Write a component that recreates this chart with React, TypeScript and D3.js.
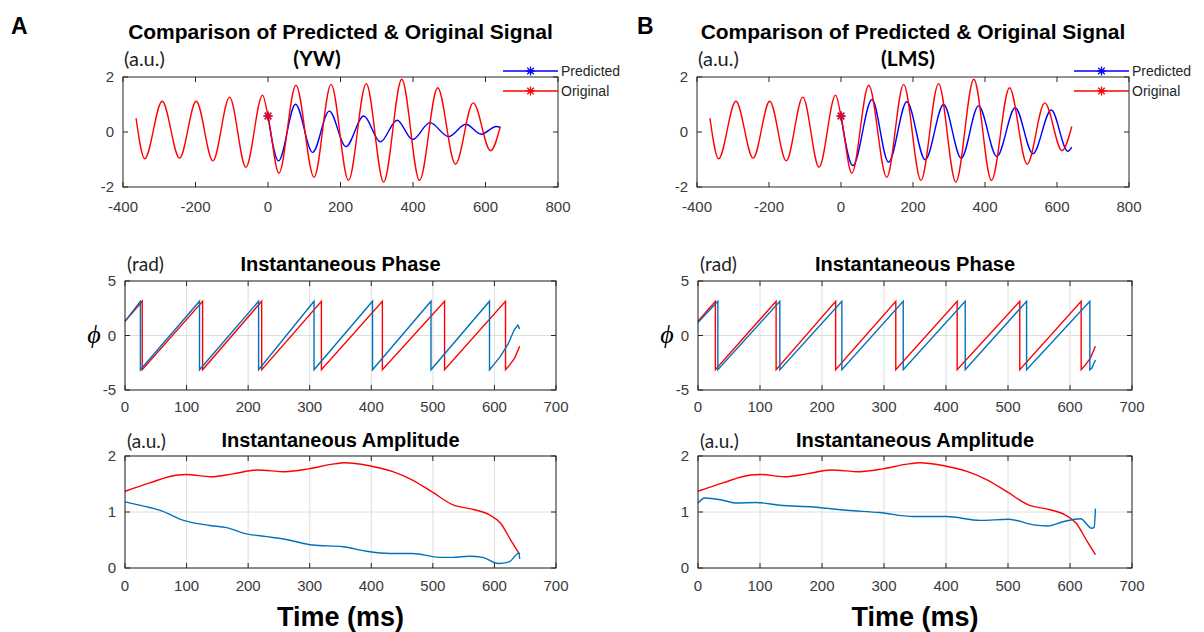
import React from 'react';
import * as d3 from 'd3';

const W = 1204;
const H = 632;

type Pt = [number, number];

// Original signal, shared by both methods: [time (ms), amplitude (a.u.)]
const originalSignal: Pt[] = [
  [-364, 0.5], [-340, -0.97], [-292, 1.12], [-244, -0.95], [-198, 1.12], [-152, -1.05],
  [-106, 1.27], [-61, -1.28], [-15, 1.34], [0, 0.58], [30, -1.5], [77, 1.7], [127, -1.65],
  [174, 1.73], [222, -1.76], [271, 1.76], [319, -1.82], [369, 1.92], [418, -1.76],
  [468, 1.61], [517, -1.17], [566, 1.06], [614, -0.68], [641, 0.2],
];

// Predicted signal, Yule-Walker (YW)
const predictedYW: Pt[] = [
  [0, 0.58], [29, -1.05], [76, 1.01], [123, -0.74], [169, 0.76], [215, -0.53], [264, 0.58],
  [310, -0.36], [356, 0.43], [399, -0.27], [447, 0.34], [498, -0.17], [546, 0.28],
  [588, -0.08], [630, 0.2], [641, 0.17],
];

// Predicted signal, least mean squares (LMS)
const predictedLMS: Pt[] = [
  [0, 0.58], [33, -1.22], [86, 1.18], [132, -1.1], [183, 1.1], [234, -1.01], [285, 1.0],
  [334, -0.95], [382, 0.95], [433, -0.89], [484, 0.88], [533, -0.79], [584, 0.8],
  [630, -0.7], [641, -0.55],
];

// Instantaneous phase: start value, wrap times (ms) and the final partial cycle
const phaseStart = { original: 1.3, yw: 1.3, lms: 1.2 };
const phaseWrapsOriginal = [28, 126, 222, 319, 418, 519, 618];
const phaseWrapsYW = [25, 121, 217, 307, 402, 497, 592];
const phaseWrapsLMS = [32, 132, 232, 331, 431, 530, 632];
const phaseTailOriginal: Pt[] = [[625, -2.7], [633, -2.05], [641, -0.98]];
const phaseTailYW: Pt[] = [[600, -2.6], [610, -1.9], [622, -0.8], [632, 0.5], [638, 0.95], [641, 0.6]];
const phaseTailLMS: Pt[] = [[635, -3.0], [641, -2.25]];

// Instantaneous amplitude envelopes: [time (ms), amplitude (a.u.)]
const amplitudeOriginal: Pt[] = [
  [0, 1.37], [40, 1.52], [85, 1.66], [100, 1.67], [140, 1.63], [175, 1.68], [215, 1.75],
  [260, 1.72], [298, 1.77], [335, 1.85], [358, 1.88], [395, 1.83], [435, 1.72], [467, 1.57],
  [500, 1.35], [532, 1.13], [568, 1.04], [592, 0.95], [610, 0.8], [628, 0.47], [641, 0.24],
];
const amplitudeYW: Pt[] = [
  [0, 1.18], [40, 1.08], [57, 1.03], [95, 0.85], [138, 0.76], [165, 0.72], [197, 0.61],
  [230, 0.56], [262, 0.51], [305, 0.41], [354, 0.38], [392, 0.3], [430, 0.26], [467, 0.26],
  [511, 0.19], [532, 0.19], [559, 0.21], [581, 0.19], [606, 0.08], [624, 0.11], [640, 0.27],
  [641, 0.16],
];
const amplitudeLMS: Pt[] = [
  [0, 1.16], [11, 1.25], [40, 1.21], [62, 1.16], [94, 1.17], [132, 1.12], [186, 1.09],
  [240, 1.03], [293, 0.99], [347, 0.92], [401, 0.92], [455, 0.85], [501, 0.87], [541, 0.77],
  [563, 0.75], [590, 0.83], [617, 0.88], [635, 0.71], [639, 0.73], [641, 1.06],
];

// Axis ticks
const signalXTicks = [-400, -200, 0, 200, 400, 600, 800];
const signalYTicks = [-2, 0, 2];
const timeTicks = [0, 100, 200, 300, 400, 500, 600, 700];
const phaseTicks = [-5, 0, 5];
const amplitudeTicks = [0, 1, 2];

const BLUE = '#0000ff';
const RED = '#ff0000';
const MBLUE = '#0072bd';
const AXIS = '#262626';
const TICKTEXT = '#3a3a3a';
const SANS = 'Arial, "Liberation Sans", Helvetica, sans-serif';
const CAL = 'Lato, "Open Sans", sans-serif';

function phasePath(start: number, wraps: number[], tail: Pt[]): Pt[] {
  const pts: Pt[] = [[0, start]];
  wraps.forEach((w) => {
    pts.push([w, Math.PI]);
    pts.push([w, -Math.PI]);
  });
  return pts.concat(tail);
}

type Box = { x0: number; x1: number; y0: number; y1: number };

interface AxesProps {
  box: Box;
  xDomain: [number, number];
  yDomain: [number, number];
  xTicks: number[];
  yTicks: number[];
  grid: boolean;
  xLabelGap: number;
  children: (x: d3.ScaleLinear<number, number>, y: d3.ScaleLinear<number, number>) => React.ReactNode;
}

function Axes({ box, xDomain, yDomain, xTicks, yTicks, grid, xLabelGap, children }: AxesProps) {
  const x = d3.scaleLinear().domain(xDomain).range([box.x0, box.x1]);
  const y = d3.scaleLinear().domain(yDomain).range([box.y1, box.y0]);
  const tl = 5;
  return (
    <g>
      {grid && (
        <g stroke="#dedede" strokeWidth={1}>
          {xTicks.map((t) => (
            <line key={'gx' + t} x1={x(t)} x2={x(t)} y1={box.y0} y2={box.y1} />
          ))}
          {yTicks.map((t) => (
            <line key={'gy' + t} x1={box.x0} x2={box.x1} y1={y(t)} y2={y(t)} />
          ))}
        </g>
      )}
      {children(x, y)}
      <rect x={box.x0} y={box.y0} width={box.x1 - box.x0} height={box.y1 - box.y0} fill="none" stroke={AXIS} strokeWidth={1} />
      <g stroke={AXIS} strokeWidth={1}>
        {xTicks.map((t) => (
          <g key={'tx' + t}>
            <line x1={x(t)} x2={x(t)} y1={box.y1} y2={box.y1 - tl} />
            <line x1={x(t)} x2={x(t)} y1={box.y0} y2={box.y0 + tl} />
          </g>
        ))}
        {yTicks.map((t) => (
          <g key={'ty' + t}>
            <line x1={box.x0} x2={box.x0 + tl} y1={y(t)} y2={y(t)} />
            <line x1={box.x1} x2={box.x1 - tl} y1={y(t)} y2={y(t)} />
          </g>
        ))}
      </g>
      <g fill={TICKTEXT} fontFamily={SANS} fontSize={15}>
        {xTicks.map((t) => (
          <text key={'lx' + t} x={x(t)} y={box.y1 + xLabelGap} textAnchor="middle">
            {t}
          </text>
        ))}
        {yTicks.map((t) => (
          <text key={'ly' + t} x={box.x0 - 9} y={y(t) + 5} textAnchor="end">
            {t}
          </text>
        ))}
      </g>
    </g>
  );
}

function Star({ cx, cy, color }: { cx: number; cy: number; color: string }) {
  const r = 4.5;
  const d = r * 0.72;
  return (
    <g stroke={color} strokeWidth={1.3}>
      <line x1={cx - r} x2={cx + r} y1={cy} y2={cy} />
      <line x1={cx} x2={cx} y1={cy - r} y2={cy + r} />
      <line x1={cx - d} x2={cx + d} y1={cy - d} y2={cy + d} />
      <line x1={cx - d} x2={cx + d} y1={cy + d} y2={cy - d} />
    </g>
  );
}

interface ColumnProps {
  letter: string;
  method: string;
  methodX: number;
  predicted: Pt[];
  phasePredicted: Pt[];
  amplitudePredicted: Pt[];
  top: Box;
  mid: Box;
  bot: Box;
}

function Column({ letter, method, methodX, predicted, phasePredicted, amplitudePredicted, top, mid, bot }: ColumnProps) {
  const phaseOriginal = phasePath(phaseStart.original, phaseWrapsOriginal, phaseTailOriginal);
  const smooth = (x: d3.ScaleLinear<number, number>, y: d3.ScaleLinear<number, number>) =>
    d3.line<Pt>().x((d) => x(d[0])).y((d) => y(d[1])).curve(d3.curveMonotoneX);
  const straight = (x: d3.ScaleLinear<number, number>, y: d3.ScaleLinear<number, number>) =>
    d3.line<Pt>().x((d) => x(d[0])).y((d) => y(d[1]));
  const topCx = (top.x0 + top.x1) / 2;
  const midCx = (mid.x0 + mid.x1) / 2;
  const botCx = (bot.x0 + bot.x1) / 2;
  const legendX1 = top.x1;
  const legendX0 = top.x1 - 55;
  return (
    <g>
      <text x={letter === 'A' ? 11 : 637} y={34} fontFamily={SANS} fontWeight="bold" fontSize={23} fill="#000">
        {letter}
      </text>

      {/* Signal comparison */}
      <text x={topCx} y={39} textAnchor="middle" fontFamily={SANS} fontWeight="bold" fontSize={21} fill="#000">
        Comparison of Predicted &amp; Original Signal
      </text>
      <text x={methodX} y={66} textAnchor="middle" fontFamily={CAL} fontWeight="bold" fontSize={21} fill="#000">
        ({method})
      </text>
      <text x={top.x0 + 1} y={66} fontFamily={CAL} fontSize={20} fill="#222">
        (a.u.)
      </text>
      <Axes box={top} xDomain={[-400, 800]} yDomain={[-2, 2]} xTicks={signalXTicks} yTicks={signalYTicks} grid={false} xLabelGap={25}>
        {(x, y) => (
          <g fill="none" strokeWidth={1.4}>
            <path d={smooth(x, y)(predicted) || ''} stroke={BLUE} />
            <path d={smooth(x, y)(originalSignal) || ''} stroke={RED} />
            <Star cx={x(predicted[0][0])} cy={y(predicted[0][1])} color={BLUE} />
            <Star cx={x(originalSignal[9][0])} cy={y(originalSignal[9][1])} color={RED} />
          </g>
        )}
      </Axes>
      <g>
        <line x1={legendX0} x2={legendX1} y1={71} y2={71} stroke={BLUE} strokeWidth={1.4} />
        <Star cx={(legendX0 + legendX1) / 2} cy={71} color={BLUE} />
        <text x={legendX1 + 3} y={76} fontFamily={SANS} fontSize={14} fill={AXIS}>
          Predicted
        </text>
        <line x1={legendX0} x2={legendX1} y1={91} y2={91} stroke={RED} strokeWidth={1.4} />
        <Star cx={(legendX0 + legendX1) / 2} cy={91} color={RED} />
        <text x={legendX1 + 3} y={96} fontFamily={SANS} fontSize={14} fill={AXIS}>
          Original
        </text>
      </g>

      {/* Instantaneous phase */}
      <text x={midCx} y={271} textAnchor="middle" fontFamily={SANS} fontWeight="bold" fontSize={20} fill="#000">
        Instantaneous Phase
      </text>
      <text x={mid.x0 + 2} y={271} fontFamily={CAL} fontSize={19} fill="#222">
        (rad)
      </text>
      <text x={mid.x0 - 31} y={343} textAnchor="middle" fontFamily='"Liberation Serif", serif' fontStyle="italic" fontSize={26} fill="#000">
        ϕ
      </text>
      <Axes box={mid} xDomain={[0, 700]} yDomain={[-5, 5]} xTicks={timeTicks} yTicks={phaseTicks} grid={true} xLabelGap={22}>
        {(x, y) => (
          <g fill="none" strokeWidth={1.4}>
            <path d={straight(x, y)(phaseOriginal) || ''} stroke={RED} />
            <path d={straight(x, y)(phasePredicted) || ''} stroke={MBLUE} />
          </g>
        )}
      </Axes>

      {/* Instantaneous amplitude */}
      <text x={botCx} y={447} textAnchor="middle" fontFamily={SANS} fontWeight="bold" fontSize={20} fill="#000">
        Instantaneous Amplitude
      </text>
      <text x={bot.x0 + 2} y={448} fontFamily={CAL} fontSize={19} fill="#222">
        (a.u.)
      </text>
      <Axes box={bot} xDomain={[0, 700]} yDomain={[0, 2]} xTicks={timeTicks} yTicks={amplitudeTicks} grid={true} xLabelGap={23}>
        {(x, y) => (
          <g fill="none" strokeWidth={1.4}>
            <path d={smooth(x, y)(amplitudeOriginal) || ''} stroke={RED} />
            <path d={smooth(x, y)(amplitudePredicted) || ''} stroke={MBLUE} />
          </g>
        )}
      </Axes>
      <text x={botCx} y={626} textAnchor="middle" fontFamily={SANS} fontWeight="bold" fontSize={27} fill="#000">
        Time (ms)
      </text>
    </g>
  );
}

export default function App() {
  return (
    <svg width={W} height={H} viewBox={`0 0 ${W} ${H}`} style={{ position: 'absolute', left: 0, top: 0, background: '#fff' }}>
      <rect width={W} height={H} fill="#fff" />
      <Column
        letter="A"
        method="YW"
        methodX={317}
        predicted={predictedYW}
        phasePredicted={phasePath(phaseStart.yw, phaseWrapsYW, phaseTailYW)}
        amplitudePredicted={amplitudeYW}
        top={{ x0: 123, x1: 558, y0: 77, y1: 187 }}
        mid={{ x0: 125, x1: 556, y0: 281, y1: 390 }}
        bot={{ x0: 125, x1: 556, y0: 456, y1: 568 }}
      />
      <Column
        letter="B"
        method="LMS"
        methodX={908}
        predicted={predictedLMS}
        phasePredicted={phasePath(phaseStart.lms, phaseWrapsLMS, phaseTailLMS)}
        amplitudePredicted={amplitudeLMS}
        top={{ x0: 697, x1: 1129, y0: 77, y1: 187 }}
        mid={{ x0: 698, x1: 1132, y0: 281, y1: 390 }}
        bot={{ x0: 698, x1: 1132, y0: 456, y1: 568 }}
      />
    </svg>
  );
}
